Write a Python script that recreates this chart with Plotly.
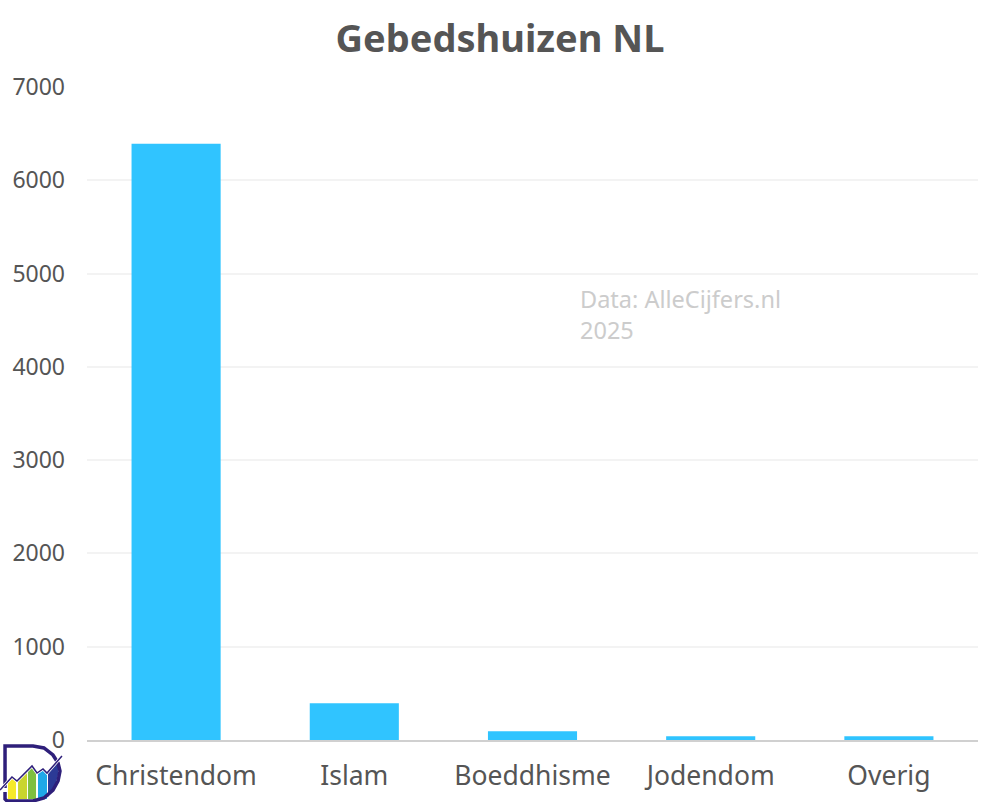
import plotly.graph_objects as go

categorieen = ["Christendom", "Islam", "Boeddhisme", "Jodendom", "Overig"]
aantallen = [6390, 395, 95, 40, 40]
y_ticks = [0, 1000, 2000, 3000, 4000, 5000, 6000, 7000]

TEKST = "#555555"
FONT = "Noto Sans"
W, H = 1000, 802
LINKS, RECHTS, BOVEN, ONDER = 87, 22, 86, 62
PAARS = "#2e1f7a"


def pad(punten, sluit=True):
    # logo staat in pixels, omrekenen naar paper (paper = plotgebied)
    breed = W - LINKS - RECHTS
    hoog = H - BOVEN - ONDER
    delen = []
    for i, (x, y) in enumerate(punten):
        px = (x - LINKS) / breed
        py = (H - ONDER - y) / hoog
        delen.append(("M" if i == 0 else "L") + f"{px:.4f},{py:.4f}")
    return " ".join(delen) + (" Z" if sluit else "")


fig = go.Figure()
fig.add_trace(go.Bar(x=categorieen, y=aantallen, marker=dict(color="#30c4ff", line=dict(width=0)), width=0.5, showlegend=False))

fig.update_layout(
    width=W,
    height=H,
    margin=dict(l=LINKS, r=RECHTS, t=BOVEN, b=ONDER),
    paper_bgcolor="white",
    plot_bgcolor="white",
    font=dict(family=FONT, color=TEKST, size=23),
    title=dict(text="<b>Gebedshuizen NL</b>", x=0.5, xanchor="center", y=0.952, yanchor="middle",
               font=dict(family=FONT, size=38, color=TEKST)),
    xaxis=dict(showgrid=False, showline=True, linecolor="#d0d0d0", linewidth=2, ticks="", automargin=False,
               tickfont=dict(family=FONT, size=26.5, color=TEKST), ticklabelstandoff=11),
    yaxis=dict(range=[0, 7010], tickvals=y_ticks, showgrid=True, gridcolor="#f3f3f3", gridwidth=2, automargin=False,
               zeroline=False, showline=False, ticks="", tickfont=dict(family=FONT, size=23, color=TEKST),
               ticklabelstandoff=21),
)

fig.add_annotation(text="Data: AlleCijfers.nl<br>2025", xref="paper", yref="paper", x=0.551, y=0.651,
                   xanchor="left", yanchor="middle", align="left", showarrow=False,
                   font=dict(family=FONT, size=23.5, color="#cccccc"))

# logo linksonder
balken = [
    ("#f5e92a", [(8, 781), (12, 777), (16, 780), (16, 799), (8, 799)]),
    ("#c9d52e", [(18, 780), (27, 771), (27, 799), (18, 799)]),
    ("#7ebf3f", [(28, 770), (32, 766), (36, 771), (36, 799), (28, 799)]),
    ("#1fa8e8", [(38, 772), (43, 769), (47, 773), (47, 799), (38, 799)]),
    ("#2c3a96", [(48, 772), (58, 761), (58, 775), (55, 787), (48, 797)]),
]
for kleur, punten in balken:
    fig.add_shape(type="path", xref="paper", yref="paper", path=pad(punten), fillcolor=kleur, line_width=0)

omtrek = [(5, 788), (5, 746), (33, 746), (44, 748), (53, 755), (58, 763), (60, 771), (58, 781),
          (53, 790), (44, 798), (33, 801), (7, 801), (5, 799), (5, 792)]
fig.add_shape(type="path", xref="paper", yref="paper", path=pad(omtrek, sluit=False),
              line=dict(color=PAARS, width=3.5))

lijn = [(0, 790), (12, 777), (17, 781), (32, 766), (37, 773), (43, 769), (47, 773), (62, 756)]
fig.add_shape(type="path", xref="paper", yref="paper", path=pad(lijn, sluit=False), line=dict(color="white", width=3))
fig.add_shape(type="path", xref="paper", yref="paper", path=pad(lijn, sluit=False), line=dict(color=PAARS, width=1.5))

fig.write_html("out.html", config=dict(displayModeBar=False), post_script="document.body.style.margin='0';")
